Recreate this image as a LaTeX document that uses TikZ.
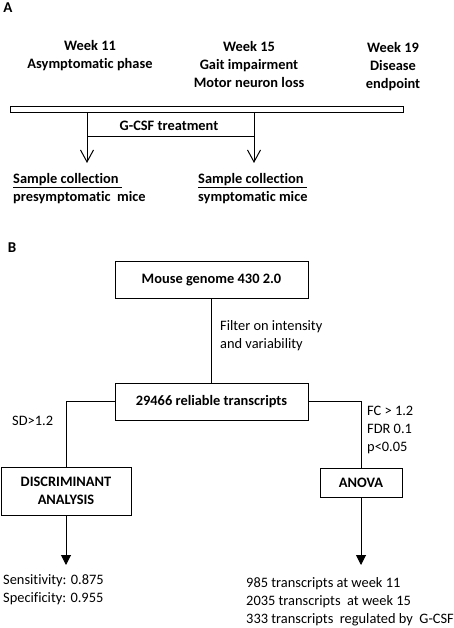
\documentclass[tikz,border=0pt]{standalone}
\usepackage{fontspec}
\setmainfont[Ligatures=NoCommon]{Carlito}
\usetikzlibrary{positioning,arrows.meta}
\newcommand\fbig{\fontsize{14.4}{18}\selectfont\bfseries}
\newcommand\fsm{\fontsize{14.4}{18}\selectfont}
\begin{document}
\begin{tikzpicture}[x=1pt,y=-1pt,
    box/.style={draw, line width=1pt, minimum width=193pt, minimum height=37pt, inner sep=0pt, font=\fbig},
    wk/.style={align=center, inner sep=0pt, font=\fbig},
    txt/.style={align=left, anchor=north west, inner sep=0pt, font=\fsm},
    vee/.style={-{Straight Barb[length=12pt,width=13pt]}, line width=1pt},
    arrow/.style={-{Triangle[length=10pt,width=10pt]}, line width=1pt}
]
  \useasboundingbox (0,0) rectangle (454,628);

  % Panel A: timeline
  \node[font=\fontsize{15}{16}\selectfont\bfseries] (pA) at (8,8) {A};
  \node[wk] (w11) at (90,56) {Week 11\\Asymptomatic phase};
  \node[wk] (w15) at (249,65) {Week 15\\Gait impairment\\Motor neuron loss};
  \node[wk] (w19) at (393,66.5) {Week 19\\Disease\\endpoint};

  \node[draw, line width=1pt, minimum width=393pt, minimum height=6pt, inner sep=0pt] (bar) at (206.5,110) {};

  \coordinate (t1) at (87,163);
  \coordinate (t2) at (254,163);
  \draw[vee] (t1 |- bar.south) -- (t1);
  \draw[vee] (t2 |- bar.south) -- (t2);
  \node[wk] (gcsf) at (169,126) {G-CSF treatment};
  \draw[line width=1pt] (t1 |- 0,137) -- (t2 |- 0,137);

  \node[txt, font=\fbig] (s1) at (13,173) {\underline{Sample collection\ }\\presymptomatic\ \ mice};
  \node[txt, font=\fbig] (s2) at (198,173) {\underline{Sample collection\ }\\symptomatic mice};

  % Panel B: analysis flow
  \node[font=\fontsize{15}{16}\selectfont\bfseries] (pB) at (12,248) {B};
  \node[box] (genome) at (211.5,279.5) {Mouse genome 430 2.0};
  \node[box] (rel) at (211.5,401.5) {29466 reliable transcripts};
  \draw[line width=1pt] (genome) -- (rel);
  \node[txt] (filt) at (220,320) {Filter on intensity\\and variability};

  \node[box, minimum width=130pt, minimum height=48pt, align=center] (da) at (66,491) {DISCRIMINANT\\ANALYSIS};
  \node[box, minimum width=82pt, minimum height=29pt] (anova) at (361,482.5) {ANOVA};
  \draw[line width=1pt] (rel.west) -| (da.north);
  \draw[line width=1pt] (rel.east) -| (anova.north);
  \node[txt] (sd) at (12,416) {SD>1.2};
  \node[txt] (fc) at (367,406) {FC > 1.2\\FDR 0.1\\p<0.05};

  \coordinate (e1) at (66,565);
  \coordinate (e2) at (361,565);
  \draw[arrow] (da.south) -- (e1);
  \draw[arrow] (anova.south) -- (e2);

  \node[txt] (sens) at (3,574) {Sensitivity: 0.875\\Specificity: 0.955};
  \node[txt] (res) at (246,577) {985 transcripts at week 11\\2035 transcripts\ \ at week 15\\333 transcripts\ \ regulated by\ \ G-CSF};
\end{tikzpicture}
\end{document}
